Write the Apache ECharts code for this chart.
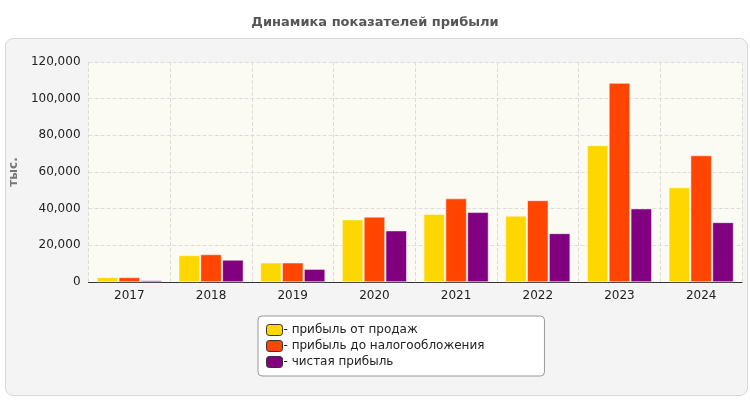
<!DOCTYPE html>
<html><head><meta charset="utf-8">
<script src="https://cdn.jsdelivr.net/npm/echarts@6/dist/echarts.min.js"></script>
<style>
html,body{margin:0;padding:0;background:#fff}
#panel{position:absolute;left:5px;top:38px;width:741px;height:356px;background:#f4f4f4;border:1px solid #d8d8d8;border-radius:8px}
#c{position:absolute;left:0;top:0;width:750px;height:400px}
</style></head><body>
<div id="panel"></div>
<div id="c"></div>
<script>
const years = ['2017', '2018', '2019', '2020', '2021', '2022', '2023', '2024']
const salesProfit = [2500, 14500, 10500, 34000, 37000, 36000, 74500, 51500]
const pretaxProfit = [2500, 15000, 10500, 35500, 45500, 44500, 108500, 69000]
const netProfit = [800, 12000, 7000, 28000, 38000, 26500, 40000, 32500]
const names = ['- прибыль от продаж', '- прибыль до налогообложения', '- чистая прибыль']
const colors = ['#ffd700', '#ff4500', '#800080']

let chart = echarts.init(document.getElementById('c'))
let mk = (name, data, i) => ({
	name: name,
	type: 'bar',
	data: data,
	barWidth: 21,
	barGap: '4%',
	itemStyle: { color: colors[i], borderColor: '#fff', borderWidth: 0.5 },
})
chart.setOption({
	animation: false,
	textStyle: { fontFamily: 'DejaVu Sans' },
	title: {
		text: 'Динамика показателей прибыли',
		left: 'center',
		top: 11,
		textStyle: { fontSize: 13, fontWeight: 'bold', color: '#555' },
	},
	grid: { left: 86, right: 8, top: 62, bottom: 118, backgroundColor: '#fbfbf4', show: true, borderWidth: 0 },
	legend: {
		orient: 'vertical',
		left: 258,
		top: 316,
		width: 234,
		padding: [8, 60, 8, 8],
		itemGap: 4,
		itemWidth: 16,
		itemHeight: 11,
		backgroundColor: '#fff',
		borderColor: '#999',
		borderWidth: 1,
		borderRadius: 4,
		textStyle: { fontSize: 12, color: '#222', padding: [0, 0, 0, -4] },
		data: names.map(n => ({ name: n, itemStyle: { borderColor: '#333', borderWidth: 1 } })),
	},
	xAxis: {
		type: 'category',
		data: years,
		axisLine: { lineStyle: { color: '#333' } },
		axisTick: { show: false },
		axisLabel: { color: '#222', fontSize: 12 },
		splitLine: { show: true, lineStyle: { type: 'dashed', color: '#ddd' } },
	},
	yAxis: {
		type: 'value',
		min: 0,
		max: 120000,
		interval: 20000,
		name: 'тыс.',
		nameLocation: 'middle',
		nameGap: 62,
		nameTextStyle: { color: '#777', fontWeight: 'bold', fontSize: 12 },
		axisLine: { show: false },
		axisTick: { show: false },
		axisLabel: { color: '#222', fontSize: 12 },
		splitLine: { lineStyle: { type: 'dashed', color: '#ddd' } },
	},
	series: [mk(names[0], salesProfit, 0), mk(names[1], pretaxProfit, 1), mk(names[2], netProfit, 2)],
})
</script>
</body></html>
